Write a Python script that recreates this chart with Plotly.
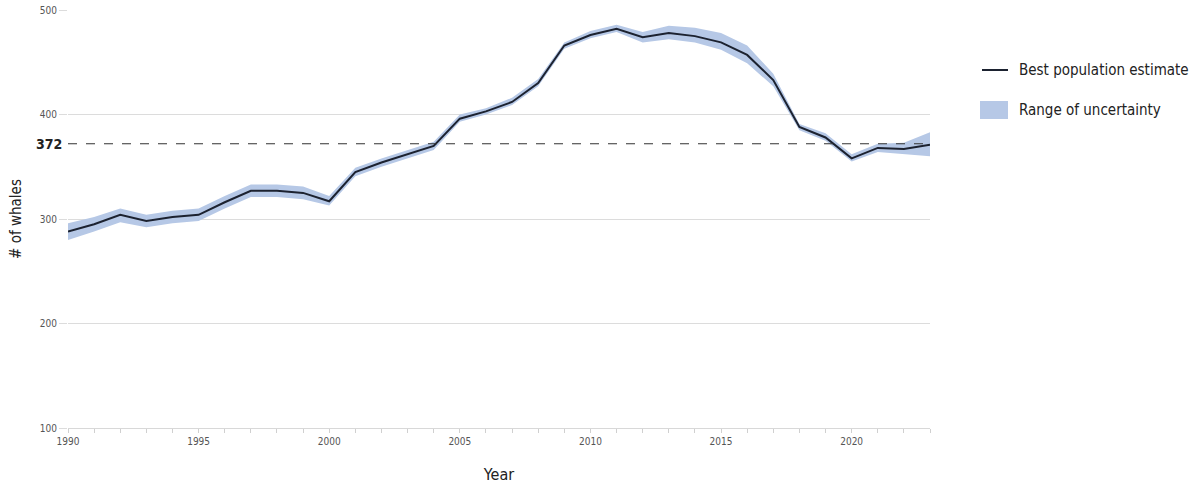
import plotly.graph_objects as go

years = list(range(1990, 2024))
best = [288, 295, 304, 298, 302, 304, 316, 327, 327, 325, 317, 345, 354, 362, 370,
        396, 403, 412, 430, 466, 476, 482, 474, 478, 475, 469, 457, 433, 388, 378,
        358, 368, 367, 371]
lower = [280, 288, 297, 292, 296, 298, 310, 321, 321, 319, 313, 341, 350, 358, 366,
         393, 400, 409, 427, 463, 473, 479, 469, 472, 469, 462, 449, 427, 385, 375,
         355, 364, 362, 360]
upper = [296, 302, 310, 304, 308, 310, 322, 333, 333, 331, 322, 349, 358, 366, 374,
         400, 406, 416, 434, 469, 480, 486, 479, 485, 483, 478, 466, 439, 391, 382,
         362, 372, 373, 383]
ref_value = 372
y_ticks = [100, 200, 300, 400, 500]
x_ticks = [1990, 1995, 2000, 2005, 2010, 2015, 2020]
legend_labels = ["Best population estimate", "Range of uncertainty"]

FONT = "Liberation Sans Narrow, DejaVu Sans Condensed, Arial Narrow, Roboto, sans-serif"
BAND = "#b6c8e6"
LINE = "#1c2230"

L, R, T, B, W, H = 68, 271, 10, 56, 1201, 484
PW, PH = W - L - R, H - T - B


def px(x):
    return (x - L) / PW


def py(y):
    return (H - B - y) / PH


fig = go.Figure()
fig.add_trace(go.Scatter(x=years, y=lower, mode="lines", line=dict(width=0, color="rgba(0,0,0,0)"),
                         showlegend=False, hoverinfo="skip"))
fig.add_trace(go.Scatter(x=years, y=upper, mode="lines", line=dict(width=0, color="rgba(0,0,0,0)"),
                         fill="tonexty", fillcolor=BAND, name=legend_labels[1], showlegend=False))
fig.add_trace(go.Scatter(x=years, y=best, mode="lines", line=dict(color=LINE, width=2),
                         name=legend_labels[0], showlegend=False))

fig.add_shape(type="line", xref="paper", x0=0, x1=1, yref="y", y0=ref_value, y1=ref_value,
              line=dict(color="#333333", width=1.2, dash="dash"))
fig.add_annotation(xref="paper", x=0, yref="y", y=ref_value, text="<b>%d</b>" % ref_value, showarrow=False,
                   xanchor="right", xshift=-4, font=dict(family=FONT, size=14, color="#222222"))

# custom legend
fig.add_shape(type="line", xref="paper", yref="paper", x0=px(982), x1=px(1008), y0=py(70), y1=py(70),
              line=dict(color=LINE, width=2))
fig.add_annotation(xref="paper", yref="paper", x=px(1017), y=py(70), text=legend_labels[0],
                   showarrow=False, xanchor="left", yanchor="middle",
                   font=dict(family=FONT, size=15, color="#222222"))
fig.add_shape(type="rect", xref="paper", yref="paper", x0=px(980), x1=px(1008), y0=py(101), y1=py(119),
              line=dict(width=0), fillcolor=BAND)
fig.add_annotation(xref="paper", yref="paper", x=px(1017), y=py(110), text=legend_labels[1],
                   showarrow=False, xanchor="left", yanchor="middle",
                   font=dict(family=FONT, size=15, color="#222222"))

fig.update_layout(
    width=W, height=H,
    margin=dict(l=L, r=R, t=T, b=B),
    paper_bgcolor="white", plot_bgcolor="white",
    font=dict(family=FONT, color="#333333"),
    showlegend=False,
    xaxis=dict(range=[1990, 2023], tickvals=x_ticks, showgrid=False, showline=True, automargin=False,
               linecolor="#d8d8d8", linewidth=1, ticks="outside", ticklen=4, tickcolor="#d0d0d0",
               tickfont=dict(size=10, color="#555555"),
               minor=dict(dtick=1, ticks="outside", ticklen=4, tickcolor="#d0d0d0", showgrid=False),
               title=dict(text="Year", font=dict(size=16, color="#222222"), standoff=22),
               zeroline=False),
    yaxis=dict(range=[100, 500], tickvals=y_ticks, showgrid=True, gridcolor="#dcdcdc", gridwidth=1,
               showline=False, ticks="outside", ticklen=8, tickcolor="#dcdcdc", automargin=False,
               tickfont=dict(size=10, color="#555555"),
               title=dict(text="# of whales", font=dict(size=15, color="#222222"), standoff=14),
               zeroline=False),
)

fig.write_html("out.html")
